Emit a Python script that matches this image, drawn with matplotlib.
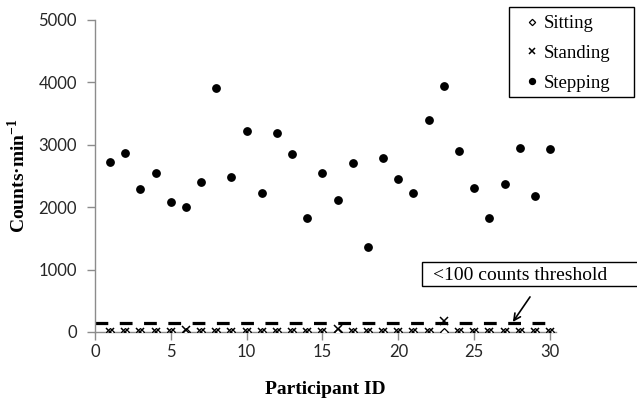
import matplotlib
matplotlib.use("Agg")
import matplotlib.pyplot as plt
from matplotlib.patches import Rectangle
import numpy as np

plt.rcParams['mathtext.fontset'] = 'custom'
plt.rcParams['mathtext.bf'] = 'Liberation Serif:bold'
plt.rcParams['mathtext.rm'] = 'Liberation Serif:bold'

participant = np.arange(1, 31)
stepping = [2725, 2870, 2290, 2545, 2090, 2000, 2395, 3910, 2475, 3215,
            2220, 3190, 2845, 1825, 2540, 2110, 2700, 1355, 2780, 2445,
            2230, 3390, 3940, 2895, 2300, 1830, 2365, 2945, 2175, 2930]
standing = [0, 0, 0, 0, 0, 30, 0, 0, 0, 0,
            0, 0, 0, 0, 0, 40, 0, 0, 0, 0,
            0, 0, 170, 0, 0, 0, 0, 0, 0, 0]
sitting = [0] * 30
threshold = 140
note = '<100 counts threshold'

W, H = 637, 398
grey = '#8c8c8c'
serif = 'Liberation Serif'

fig = plt.figure(figsize=(W / 100, H / 100), dpi=100)
ax = fig.add_axes([0.149, 0.166, 0.724, 0.784])

ax.axhline(threshold, color='black', lw=2.3, linestyle=(0, (4, 3.6)), zorder=2)

ax.plot(participant, sitting, linestyle='none', marker='D', markersize=4,
        markerfacecolor='white', markeredgecolor='black', markeredgewidth=0.9,
        label='Sitting', zorder=3)
ax.plot(participant, standing, linestyle='none', marker='x', markersize=5.5,
        color='black', markeredgewidth=1.1, label='Standing', zorder=4)
ax.plot(participant, stepping, linestyle='none', marker='o', markersize=5.3,
        color='black', label='Stepping', zorder=5)

ax.set_xlim(0, 30.4)
ax.set_ylim(0, 5000)
ax.set_xticks(range(0, 31, 5))
ax.set_yticks(range(0, 5001, 1000))

for side in ['top', 'right']:
    ax.spines[side].set_visible(False)
for side in ['left', 'bottom']:
    ax.spines[side].set_color(grey)
    ax.spines[side].set_linewidth(1.0)
ax.tick_params(direction='out', length=5.5, color=grey, width=1.0,
               labelsize=12, labelcolor='#262626')
ax.tick_params(axis='y', pad=7.5)
ax.tick_params(axis='x', pad=3)
for lab in ax.get_xticklabels() + ax.get_yticklabels():
    lab.set_fontfamily('Lato')

ax.set_xlabel('Participant ID', fontfamily=serif, fontweight='bold',
              fontsize=14)
ax.xaxis.set_label_coords(0.5, -0.157)
ax.set_ylabel(r'Counts·min$^{\mathbf{-1}}$', fontfamily=serif,
              fontweight='bold', fontsize=14)
ax.yaxis.set_label_coords(-0.143, 0.5)

# threshold note: box, text and arrow
fig.patches.append(Rectangle((422 / W, 1 - 286 / H), 220 / W, 24 / H,
                             transform=fig.transFigure, fc='white',
                             ec='black', lw=1.0, zorder=6))
fig.text(433 / W, 1 - 276 / H, note, fontfamily=serif, fontsize=14,
         ha='left', va='center', zorder=7)
ax.annotate('', xy=(27.55, 160), xytext=(28.68, 561),
            arrowprops=dict(arrowstyle='->', color='black', lw=1.2,
                            shrinkA=0, shrinkB=0, mutation_scale=12),
            annotation_clip=False, zorder=7)

# legend with its own frame
fig.patches.append(Rectangle((509 / W, 1 - 97 / H), 125 / W, 90 / H,
                             transform=fig.transFigure, fc='white',
                             ec='black', lw=1.0, zorder=8))
leg = fig.legend(loc='upper left', bbox_to_anchor=(509 / W, 1.0),
                 borderaxespad=0, prop={'family': serif, 'size': 13.5},
                 frameon=False, handlelength=0.8, handletextpad=0.24,
                 labelspacing=0.68, borderpad=0.8, markerscale=0.8)
leg.set_zorder(9)

fig.savefig('out.png', dpi=100)
